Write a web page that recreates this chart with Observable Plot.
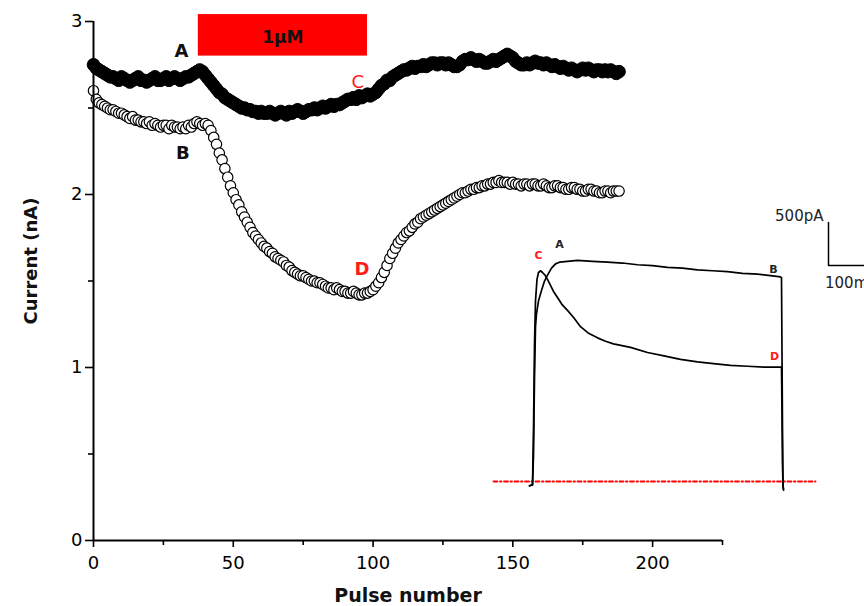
<!DOCTYPE html>
<html>
<head>
<meta charset="utf-8">
<script src="https://cdn.jsdelivr.net/npm/d3@7"></script>
<script src="https://cdn.jsdelivr.net/npm/@observablehq/plot@0.6"></script>
<style>
  html, body { margin: 0; padding: 0; background: #fff; }
  #wrap { position: relative; width: 864px; height: 606px; overflow: hidden; background: #fff; }
  #inset { position: absolute; left: 480px; top: 200px; }
</style>
</head>
<body>
<div id="wrap"><div id="main"></div><div id="inset"></div></div>
<script>
// ---------- main chart data (pulse number 0..188) ----------
// filled circles (control, trace A)
const currentFilled = [
2.75,2.73,2.72,2.71,2.70,2.69,2.68,2.68,2.67,2.66,
2.68,2.67,2.66,2.65,2.66,2.67,2.68,2.66,2.66,2.65,
2.66,2.67,2.68,2.66,2.66,2.67,2.68,2.66,2.67,2.68,
2.67,2.66,2.67,2.68,2.68,2.69,2.70,2.71,2.72,2.71,
2.69,2.67,2.65,2.63,2.61,2.59,2.58,2.56,2.55,2.54,
2.53,2.52,2.51,2.50,2.50,2.49,2.49,2.48,2.48,2.47,
2.48,2.47,2.47,2.48,2.47,2.46,2.47,2.48,2.47,2.46,
2.48,2.47,2.48,2.49,2.48,2.47,2.48,2.49,2.49,2.50,
2.49,2.50,2.51,2.50,2.51,2.52,2.51,2.52,2.52,2.53,
2.54,2.55,2.55,2.56,2.55,2.57,2.56,2.57,2.58,2.57,
2.58,2.59,2.61,2.63,2.64,2.66,2.66,2.68,2.69,2.70,
2.71,2.72,2.72,2.73,2.74,2.73,2.74,2.74,2.75,2.74,
2.75,2.76,2.76,2.75,2.76,2.76,2.75,2.76,2.75,2.74,
2.74,2.75,2.77,2.78,2.78,2.79,2.78,2.77,2.78,2.77,
2.76,2.76,2.77,2.78,2.77,2.78,2.79,2.80,2.81,2.80,
2.79,2.77,2.76,2.75,2.75,2.76,2.75,2.76,2.77,2.76,
2.76,2.75,2.76,2.75,2.74,2.75,2.74,2.73,2.74,2.73,
2.72,2.73,2.72,2.71,2.72,2.73,2.72,2.73,2.72,2.71,
2.72,2.72,2.71,2.72,2.71,2.72,2.71,2.70,2.71];
// open circles (trace B)
const currentOpen = [
2.60,2.55,2.53,2.52,2.51,2.50,2.49,2.49,2.48,2.47,
2.47,2.46,2.45,2.44,2.45,2.43,2.43,2.42,2.42,2.41,
2.42,2.40,2.41,2.40,2.39,2.40,2.40,2.38,2.40,2.39,
2.39,2.38,2.39,2.38,2.40,2.39,2.41,2.42,2.41,2.40,
2.41,2.40,2.37,2.33,2.29,2.24,2.20,2.15,2.10,2.05,
2.01,1.97,1.94,1.90,1.87,1.84,1.81,1.78,1.76,1.74,
1.72,1.70,1.69,1.67,1.66,1.64,1.63,1.62,1.61,1.59,
1.58,1.56,1.55,1.54,1.53,1.53,1.52,1.51,1.50,1.50,
1.49,1.49,1.48,1.47,1.46,1.46,1.45,1.46,1.45,1.44,
1.44,1.43,1.43,1.44,1.43,1.42,1.42,1.43,1.43,1.44,
1.45,1.47,1.49,1.52,1.55,1.59,1.63,1.66,1.69,1.72,
1.74,1.76,1.78,1.79,1.81,1.83,1.84,1.86,1.87,1.88,
1.89,1.90,1.91,1.92,1.93,1.94,1.95,1.96,1.97,1.98,
1.99,2.00,2.01,2.01,2.02,2.03,2.03,2.04,2.04,2.05,
2.05,2.06,2.06,2.07,2.07,2.08,2.07,2.07,2.07,2.06,
2.07,2.06,2.06,2.05,2.06,2.06,2.05,2.06,2.06,2.05,
2.05,2.06,2.05,2.04,2.04,2.05,2.05,2.04,2.04,2.03,
2.03,2.04,2.04,2.03,2.03,2.02,2.02,2.03,2.03,2.02,
2.02,2.01,2.01,2.02,2.02,2.01,2.02,2.02,2.02];

const xDomain = [0, 225];
const yDomain = [0, 3];
const xMajorTicks = [0, 50, 100, 150, 200];
const xMinorTicks = [25, 75, 125, 175, 225];
const yMajorTicks = [0, 1, 2, 3];
const yMinorTicks = [0.5, 1.5, 2.5];

// drug application bar
const drugStart = [37.5], drugEnd = [98], drugLow = [2.80], drugHigh = [3.04];
const drugText = ["1μM"];

// point labels
const labelText  = ["A", "B", "C", "D"];
const labelX     = [31.5, 32, 94.5, 96];
const labelY     = [2.83, 2.24, 2.65, 1.57];
const labelColor = ["#111", "#111", "#ff1a1a", "#ff1a1a"];
const labelBold  = [true, true, false, true];

const dotsFilled = currentFilled.map((v, p) => ({p, v}));
const dotsOpen   = currentOpen.map((v, p) => ({p, v}));
const drug = drugStart.map((d, i) => ({x1: d, x2: drugEnd[i], y1: drugLow[i], y2: drugHigh[i], t: drugText[i]}));
const labels = labelText.map((t, i) => ({t, x: labelX[i], y: labelY[i], c: labelColor[i], b: labelBold[i]}));

const main = Plot.plot({
  width: 864, height: 606,
  marginLeft: 93, marginRight: 142, marginTop: 21, marginBottom: 66,
  x: {domain: xDomain, axis: null},
  y: {domain: yDomain, axis: null},
  style: {fontFamily: "'DejaVu Sans', Verdana, sans-serif", fontSize: "18px", color: "#000", background: "transparent", overflow: "visible"},
  marks: [
    Plot.rect(drug, {x1: "x1", x2: "x2", y1: "y1", y2: "y2", fill: "#ff0000"}),
    Plot.text(drug, {x: d => (d.x1 + d.x2) / 2, y: d => (d.y1 + d.y2) / 2 - 0.01, text: "t", fontWeight: "bold", fontSize: 17, fill: "#111"}),
    Plot.dot(dotsOpen, {x: "p", y: "v", r: 5.2, stroke: "#000", fill: "#fff", strokeWidth: 1.2}),
    Plot.dot(dotsFilled, {x: "p", y: "v", r: 6.3, stroke: "#000", fill: "#000", strokeWidth: 1}),
    Plot.ruleY([yDomain[0]], {x1: xDomain[0], x2: xDomain[1], stroke: "#000", strokeWidth: 2}),
    Plot.ruleX([xDomain[0]], {y1: yDomain[0], y2: yDomain[1], stroke: "#000", strokeWidth: 2}),
    Plot.axisX({ticks: xMajorTicks, tickSize: 7, tickPadding: 9, tickFormat: d => String(d), strokeWidth: 1.6, label: null, fontSize: 18}),
    Plot.axisX({ticks: xMinorTicks, tickSize: 5, tickFormat: () => "", strokeWidth: 1.6, label: null}),
    Plot.axisY({ticks: yMajorTicks, tickSize: 8, tickPadding: 3, tickFormat: d => String(d), strokeWidth: 1.6, label: null, fontSize: 18}),
    Plot.axisY({ticks: yMinorTicks, tickSize: 5, tickFormat: () => "", strokeWidth: 1.6, label: null}),
    Plot.text(["Pulse number"], {frameAnchor: "bottom", dy: 61, lineAnchor: "bottom", fontWeight: "bold", fontSize: 19, fill: "#111"}),
    Plot.text(["Current (nA)"], {frameAnchor: "left", textAnchor: "middle", dx: -62, dy: -20, rotate: -90, lineAnchor: "middle", fontWeight: "bold", fontSize: 18, letterSpacing: "1.5px", fill: "#111"}),
    Plot.text(labels.filter(d => d.b), {x: "x", y: "y", text: "t", fill: "c", fontWeight: "bold", fontSize: 18}),
    Plot.text(labels.filter(d => !d.b), {x: "x", y: "y", text: "t", fill: "c", fontSize: 18})
  ]
});
document.getElementById("main").appendChild(main);

// ---------- inset: current traces (time ms, current nA) ----------
const traceA_t = [-6,0,2,4,6,8,12,18,24,30,38,46,54,70,90,120,150,180,210,240,270,300,330,360,390,420,450,480,496,498,499,500,501,502];
const traceA_v = [-0.05,-0.04,0.3,1.2,1.8,1.95,2.10,2.22,2.33,2.40,2.48,2.53,2.55,2.56,2.57,2.56,2.55,2.54,2.52,2.51,2.49,2.48,2.46,2.45,2.44,2.42,2.41,2.39,2.38,2.37,1.5,0.6,-0.05,-0.09];
const traceC_t = [-6,0,2,4,6,9,12,16,20,25,30,36,42,50,60,70,83,96,113,130,146,162,196,230,263,296,330,362,396,430,463,496,498,499,500,501,502];
const traceC_v = [-0.05,-0.04,0.6,1.6,2.1,2.35,2.43,2.45,2.43,2.40,2.35,2.28,2.21,2.14,2.05,1.99,1.90,1.80,1.72,1.67,1.63,1.60,1.56,1.50,1.46,1.42,1.39,1.37,1.35,1.34,1.33,1.33,1.33,0.8,0.2,-0.05,-0.1];
const baselineT = [-78, 566];
const baselineV = [0, 0];
const scaleBarT = [592, 592, 700];
const scaleBarV = [3.01, 2.51, 2.51];
const scaleText = ["500pA", "100ms"];
const scaleTextT = [582, 585];
const scaleTextV = [3.08, 2.31];
const scaleAnchor = ["end", "start"];
const insetLabelText = ["C", "A", "B", "D"];
const insetLabelT = [12, 54, 482, 484];
const insetLabelV = [2.63, 2.76, 2.47, 1.45];
const insetLabelColor = ["#ff1a1a", "#222", "#222", "#ff1a1a"];

const tA = traceA_t.map((t, i) => ({t, v: traceA_v[i]}));
const tC = traceC_t.map((t, i) => ({t, v: traceC_v[i]}));
const base = baselineT.map((t, i) => ({t, v: baselineV[i]}));
const bar = scaleBarT.map((t, i) => ({t, v: scaleBarV[i]}));
const sText = scaleText.map((s, i) => ({s, t: scaleTextT[i], v: scaleTextV[i], a: scaleAnchor[i]}));
const iLabels = insetLabelText.map((s, i) => ({s, t: insetLabelT[i], v: insetLabelV[i], c: insetLabelColor[i]}));

const inset = Plot.plot({
  width: 384, height: 300, margin: 0,
  x: {domain: [-104, 664], axis: null},
  y: {domain: [-0.221, 3.267], axis: null},
  style: {fontFamily: "'DejaVu Sans', Verdana, sans-serif", background: "transparent", overflow: "visible"},
  marks: [
    Plot.line(base, {x: "t", y: "v", stroke: "#ff0000", strokeWidth: 1.8, strokeDasharray: "4,2.5,1.5,2.5"}),
    Plot.line(tC, {x: "t", y: "v", stroke: "#000", strokeWidth: 1.7}),
    Plot.line(tA, {x: "t", y: "v", stroke: "#000", strokeWidth: 1.7}),
    Plot.line(bar, {x: "t", y: "v", stroke: "#000", strokeWidth: 1.5}),
    Plot.text(sText.filter(d => d.a === "end"), {x: "t", y: "v", text: "s", textAnchor: "end", fontSize: 15, fill: "#222", letterSpacing: "1.5px"}),
    Plot.text(sText.filter(d => d.a === "start"), {x: "t", y: "v", text: "s", textAnchor: "start", fontSize: 15, fill: "#222", letterSpacing: "1.5px"}),
    Plot.text(iLabels, {x: "t", y: "v", text: "s", fill: "c", fontSize: 11, fontWeight: "bold"})
  ]
});
document.getElementById("inset").appendChild(inset);
</script>
</body>
</html>
